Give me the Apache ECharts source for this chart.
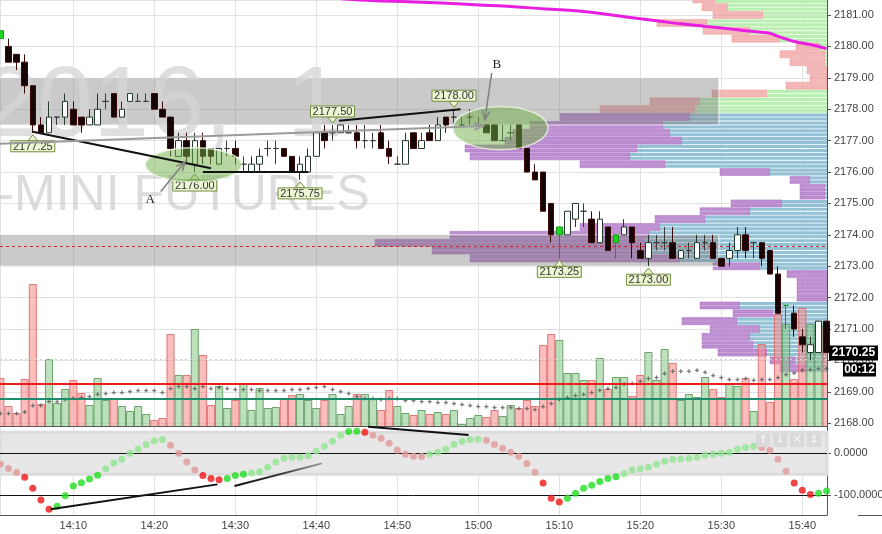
<!DOCTYPE html>
<html><head><meta charset="utf-8">
<script src="https://cdn.jsdelivr.net/npm/echarts@6/dist/echarts.min.js"></script>
<style>html,body{margin:0;padding:0;background:#fff;}#c{width:882px;height:534px;}</style>
</head><body><div id="c"></div>
<script>
// ---------- DATA ----------
const barTimes = ["14:01","14:02","14:03","14:04","14:05","14:06","14:07","14:08","14:09","14:10",
"14:11","14:12","14:13","14:14","14:15","14:16","14:17","14:18","14:19","14:20",
"14:21","14:22","14:23","14:24","14:25","14:26","14:27","14:28","14:29","14:30",
"14:31","14:32","14:33","14:34","14:35","14:36","14:37","14:38","14:39","14:40",
"14:41","14:42","14:43","14:44","14:45","14:46","14:47","14:48","14:49","14:50",
"14:51","14:52","14:53","14:54","14:55","14:56","14:57","14:58","14:59","15:00",
"15:01","15:02","15:03","15:04","15:05","15:06","15:07","15:08","15:09","15:10",
"15:11","15:12","15:13","15:14","15:15","15:16","15:17","15:18","15:19","15:20",
"15:21","15:22","15:23","15:24","15:25","15:26","15:27","15:28","15:29","15:30",
"15:31","15:32","15:33","15:34","15:35","15:36","15:37","15:38","15:39","15:40",
"15:41","15:42","15:43"];
const open = [2180.25,2180.0,2179.75,2179.5,2178.75,2177.5,2177.25,2177.75,2177.75,2178.0,
2177.75,2177.5,2177.5,2178.25,2178.5,2177.75,2178.25,2178.25,2178.25,2178.5,
2178.0,2177.75,2176.5,2177.0,2176.25,2177.0,2176.75,2176.25,2176.75,2176.75,
2176.25,2176.0,2176.25,2176.75,2176.75,2176.75,2176.5,2176.0,2176.0,2176.5,
2177.25,2177.25,2177.25,2177.25,2177.25,2177.0,2177.0,2177.25,2176.75,2176.25,
2176.25,2177.25,2176.75,2177.25,2177.0,2177.75,2177.75,2177.5,2177.75,2177.5,
2177.5,2177.5,2177.0,2177.25,2177.5,2176.75,2176.0,2176.0,2175.0,2174.0,
2174.0,2174.5,2174.75,2174.5,2173.75,2174.25,2173.75,2174.0,2174.25,2173.5,
2173.25,2173.75,2173.75,2173.75,2173.25,2173.5,2173.25,2173.75,2173.75,2173.25,
2173.25,2173.5,2174.0,2173.75,2173.75,2173.5,2172.75,2171.75,2171.5,2170.75,
2170.25,2170.25,2171.25];
const close = [2180.5,2179.5,2179.5,2178.75,2177.5,2177.25,2177.75,2177.75,2178.25,2177.5,
2177.5,2177.75,2178.0,2178.25,2177.75,2178.0,2178.5,2178.25,2178.25,2178.0,
2177.75,2176.75,2177.0,2176.5,2177.0,2176.5,2176.5,2176.75,2176.75,2176.5,
2176.25,2176.25,2176.5,2176.75,2176.75,2176.5,2176.0,2176.25,2176.5,2177.25,
2177.0,2177.25,2177.5,2177.25,2177.0,2177.0,2177.0,2176.75,2176.5,2176.25,
2177.0,2176.75,2177.0,2177.0,2177.5,2177.5,2177.75,2177.5,2177.75,2177.5,
2177.25,2177.0,2177.0,2177.25,2176.75,2176.0,2175.75,2174.75,2174.0,2174.25,
2174.75,2175.0,2174.75,2173.75,2174.5,2173.5,2174.0,2174.25,2173.75,2173.25,
2173.75,2173.75,2173.75,2173.25,2173.5,2173.5,2173.75,2173.75,2173.25,2173.0,
2173.5,2174.0,2173.5,2173.75,2173.25,2172.75,2171.5,2171.75,2171.0,2170.5,
2170.5,2171.25,2170.25];
const low = [2180.25,2179.5,2179.25,2178.5,2177.25,2177.25,2177.25,2177.5,2177.5,2177.5,
2177.25,2177.5,2177.5,2178.0,2177.75,2177.75,2178.25,2178.25,2178.25,2178.0,
2177.75,2176.5,2176.5,2176.25,2176.0,2176.25,2176.25,2176.25,2176.5,2176.25,
2176.0,2176.0,2176.0,2176.5,2176.25,2176.5,2176.0,2175.75,2176.0,2176.5,
2176.75,2177.0,2177.25,2177.25,2176.75,2176.75,2176.75,2176.75,2176.25,2176.25,
2176.25,2176.75,2176.75,2177.0,2177.0,2177.25,2177.5,2177.5,2177.5,2177.5,
2177.25,2177.0,2177.0,2177.0,2176.75,2176.0,2175.75,2174.75,2173.75,2173.25,
2174.0,2174.25,2174.25,2173.75,2173.75,2173.5,2173.25,2174.0,2173.25,2173.25,
2173.0,2173.5,2173.5,2173.25,2173.25,2173.25,2173.25,2173.5,2173.25,2173.0,
2173.0,2173.25,2173.25,2173.25,2173.0,2172.75,2171.5,2171.0,2170.75,2170.25,
2170.0,2170.25,2170.25];
const high = [2180.5,2180.25,2179.75,2179.75,2178.75,2177.75,2178.25,2177.75,2178.5,2178.25,
2177.75,2178.0,2178.5,2178.5,2178.5,2178.25,2178.5,2178.5,2178.5,2178.5,
2178.25,2177.75,2177.25,2177.25,2177.25,2177.25,2176.75,2176.75,2177.0,2177.0,
2176.5,2176.5,2176.75,2177.0,2177.0,2176.75,2176.5,2176.5,2176.75,2177.25,
2177.5,2177.5,2177.5,2177.5,2177.5,2177.5,2177.25,2177.5,2177.0,2176.5,
2177.25,2177.25,2177.25,2177.5,2177.75,2177.75,2178.0,2177.75,2178.0,2177.75,
2177.5,2177.5,2177.5,2177.5,2177.5,2176.75,2176.25,2176.0,2175.0,2174.25,
2174.75,2175.0,2175.0,2174.75,2174.75,2174.25,2174.0,2174.5,2174.25,2173.75,
2174.0,2174.0,2174.25,2174.25,2173.5,2173.75,2174.0,2174.0,2174.0,2173.25,
2173.75,2174.25,2174.25,2173.75,2173.75,2173.5,2173.0,2171.75,2171.75,2171.0,
2170.75,2171.25,2171.25];
const greenBars = ["14:01","15:10","15:17","15:38"];

const volume = [480,200,130,470,1420,220,670,230,370,460,
330,210,480,260,280,200,150,200,120,60,
80,920,510,510,970,710,210,400,180,260,
430,160,380,180,190,270,310,320,260,180,
260,320,120,200,320,320,280,160,360,200,
130,110,160,120,140,120,160,20,80,110,
90,160,100,210,180,260,200,810,920,860,
530,530,460,460,680,370,490,490,300,510,
740,460,770,630,260,320,290,490,370,290,
430,400,480,150,820,240,1120,1020,470,1180,
1020,1020,1000];
const volSide = ("dddddduuud"+"duuuduuuud"+"ddududduud"+"uuuuudduuu"+"duuuduuddu"+
  "udududuuuu"+"dduudddddu"+"uuududuudd"+"uuuduuuudd"+"uududddudd"+"uud").split("");
const volAvg = [124,124,124,140,204,204,244,244,264,277,
284,294,317,324,334,334,344,354,354,354,
334,374,394,394,374,394,374,384,374,364,
364,364,354,354,354,354,364,364,374,384,
394,364,344,324,294,274,274,264,274,274,
254,254,244,244,234,234,224,214,204,194,
194,184,184,184,174,174,164,194,224,264,
284,304,314,334,357,374,384,417,424,447,
474,484,524,547,547,547,557,537,504,484,
464,464,474,457,464,464,484,514,530,557,
564,574,574];
const volLevelHigh = 424, volLevelLow = 270, volLevelDot = 664;

const osc = [-26,-36,-46,-57,-83,-111,-133,-126,-101,-78,
-70,-61,-52,-37,-23,-14,0,10,21,30,
33,19,0,-21,-40,-53,-60,-63,-60,-53,
-50,-47,-44,-33,-21,-12,-9.5,-9.3,-5.7,5.5,
16.7,28.6,43,52,52.3,50,43,36,24,7,
-2.4,-7.1,-7.4,-2.4,2.4,9.5,21,28.6,33,33.2,
31,21,12,2.4,-7,-24,-45,-71,-107,-116,
-107,-95,-83,-76,-67,-60,-56,-48.5,-40,-37,
-33,-26,-19,-15,-13.6,-12,-9.5,-4.8,-2.4,0,
2.4,9.5,14,16.7,14,7,-14,-43,-71,-88,
-98,-95,-90];
const oscLevels = [0, -100];

const magTimes = ["14:40","14:44","14:48","14:53","14:58","15:03","15:08","15:13","15:18","15:22","15:25","15:28","15:31","15:33","15:36","15:37","15:39","15:41","15:43"];
const magPrices = [2181.62,2181.50,2181.45,2181.41,2181.35,2181.29,2181.20,2181.11,2180.95,2180.82,2180.72,2180.64,2180.56,2180.50,2180.42,2180.32,2180.16,2180.06,2179.93];

const profPrice = [2181.5,2181.25,2181.0,2180.75,2180.5,2180.25,2180.0,2179.75,2179.5,2179.25,2179.0,2178.75,
2178.5,2178.25,2178.0,2177.75,2177.5,2177.25,2177.0,2176.75,2176.5,2176.25,2176.0,2175.75,
2175.5,2175.25,2175.0,2174.75,2174.5,2174.25,2174.0,2173.75,2173.5,2173.25,2173.0,2172.75,
2172.5,2172.25,2172.0,2171.75,2171.5,2171.25,2171.0,2170.75,2170.5,2170.25,2170.0,2169.75];
const profTotal = [268,250,228,340,248,190,62,94,74,40,34,82,
230,354,454,534,594,628,644,724,714,494,214,74,
54,54,192,254,344,494,754,904,790,714,228,80,
60,60,60,254,188,290,234,250,250,218,114,94];
const profInner = [224,198,128,240,154,94,14,4,4,0,0,0,
120,254,264,274,328,314,290,380,394,324,114,34,
4,4,90,154,244,334,354,364,354,294,134,0,
0,0,0,174,108,180,134,154,148,120,64,44];
const valueAreaHigh = 2177.75;

const bandHigh = [2179.0, 2174.0], bandLow = [2177.5, 2173.0];
const bandFrom = ["14:00","14:00"], bandTo = ["15:29","15:29"];
const pocPrice = 2173.65;
const lastPrice = 2170.25, countdown = "00:12";

const swingTimes = ["14:05","14:25","14:38","14:42","14:57","15:10","15:21"];
const swingPrices = [2177.25,2176.00,2175.75,2177.50,2178.00,2173.25,2173.00];
const swingSide = ["L","L","L","H","H","L","L"];

// ---------- helpers ----------
function toMin(t){const [h,m]=t.split(":").map(Number);return (h-14)*60+m;}
function fmtTime(v){const tot=14*60+Math.round(v);const h=Math.floor(tot/60),m=tot%60;return h+":"+(m<10?"0":"")+m;}
const X_MIN = 0.95, X_MAX = 103.05;
const FONT = '"Liberation Sans", Arial, sans-serif';

const candleData = barTimes.map((t,i)=>{
  const it = {value:[toMin(t), open[i], close[i], low[i], high[i]]};
  if (greenBars.includes(t)) it.itemStyle = {color:'#1fd41f', borderColor:'#169a16', borderColorDoji:'#1fb81f'};
  return it;
});
const volData = barTimes.map((t,i)=>[toMin(t), volume[i], volSide[i]==='u'?1:0]);
const oscData = barTimes.map((t,i)=>{
  const v = osc[i], prev = i>0 ? osc[i-1] : v+1;
  const rising = v >= prev, strong = Math.abs(v) >= 50;
  const c = rising ? (strong ? '#22dd22' : '#92e692') : (strong ? '#ee1515' : '#e29a9a');
  return {value:[toMin(t), v], itemStyle:{color:c}};
});

const option = {
  animation:false,
  backgroundColor:'#ffffff',
  grid:[
    {left:0, top:0, width:827, height:426, outerBoundsMode:'none', containLabel:false},
    {left:0, top:426, width:827, height:89, outerBoundsMode:'none', containLabel:false}
  ],
  xAxis:[
    {type:'value', gridIndex:0, min:X_MIN, max:X_MAX, minInterval:10, maxInterval:10,
     axisLabel:{show:false}, axisTick:{show:false},
     axisLine:{show:true, onZero:false, lineStyle:{color:'#555', width:1}},
     splitLine:{show:true, lineStyle:{color:'#e2e2e2', width:1}}},
    {type:'value', gridIndex:1, min:X_MIN, max:X_MAX, minInterval:10, maxInterval:10,
     axisLabel:{show:true, formatter:v=>fmtTime(v), fontSize:11, color:'#444', margin:5, fontFamily:FONT,
                showMinLabel:false, showMaxLabel:false},
     axisTick:{show:false},
     axisLine:{show:true, onZero:false, lineStyle:{color:'#555', width:1}},
     splitLine:{show:true, lineStyle:{color:'#e2e2e2', width:1}}},
    {type:'value', gridIndex:0, min:0, max:1654, inverse:true, show:false, splitLine:{show:false}}
  ],
  yAxis:[
    {type:'value', gridIndex:0, position:'right', min:2167.91, max:2181.48, minInterval:1, maxInterval:1,
     axisLine:{show:true, lineStyle:{color:'#555'}},
     axisTick:{show:true, length:4, lineStyle:{color:'#555'}},
     axisLabel:{formatter:v=>v.toFixed(2), fontSize:11, color:'#444', margin:7, fontFamily:FONT,
                showMinLabel:false, showMaxLabel:false},
     splitLine:{show:true, lineStyle:{color:'#e2e2e2', width:1}}},
    {type:'value', gridIndex:0, min:0, max:4260, show:false, splitLine:{show:false}},
    {type:'value', gridIndex:1, position:'right', min:-146.9, max:65,
     axisLine:{show:true, lineStyle:{color:'#555'}},
     axisTick:{show:true, length:4, customValues:oscLevels, lineStyle:{color:'#555'}},
     axisLabel:{customValues:oscLevels, formatter:v=>Number(v).toFixed(4), fontSize:11, color:'#444', margin:7, fontFamily:FONT},
     splitLine:{show:false}}
  ],
  series:[
    { // volume profile
      type:'custom', name:'profile', xAxisIndex:2, yAxisIndex:0, z:1, silent:true, clip:true,
      data: profPrice.map((p,i)=>[profTotal[i], p, profInner[i]]),
      encode:{x:0, y:1},
      renderItem:(params, api)=>{
        const total=api.value(0), p=api.value(1), inner=api.value(2);
        const r=api.coord([0,p]), l=api.coord([total,p]), m=api.coord([inner,p]);
        const h=api.size([0,0.25])[1];
        const va = p <= valueAreaHigh + 1e-6;
        const oc = va ? '#bf8fd4' : '#f5b8b8', ocs = va ? '#a86cbf' : '#e89494';
        const ic = va ? '#93c2d6' : '#b9efb0';
        const sh = h/2 - 0.8, ch=[];
        [r[1]-h/2+0.4, r[1]+0.4].forEach(y0=>{
          if (l[0] < m[0]-0.5) ch.push({type:'rect', shape:{x:l[0], y:y0, width:m[0]-l[0], height:sh}, style:{fill:oc, stroke:ocs, lineWidth:0.5}});
          if (m[0] < r[0]) ch.push({type:'rect', shape:{x:m[0], y:y0, width:r[0]-m[0], height:sh}, style:{fill:ic}});
        });
        return {type:'group', children:ch};
      }
    },
    { // gray bands
      type:'custom', name:'bands', xAxisIndex:0, yAxisIndex:0, z:1.2, silent:true, clip:true,
      data: bandFrom.map((f,i)=>[toMin(f), bandHigh[i], toMin(bandTo[i])+0.7, bandLow[i]]),
      encode:{x:[0,2], y:[1,3]},
      renderItem:(params, api)=>{
        const a=api.coord([api.value(0), api.value(1)]), b=api.coord([api.value(2), api.value(3)]);
        return {type:'rect', shape:{x:a[0], y:a[1], width:b[0]-a[0], height:b[1]-a[1]},
                style:{fill:'rgba(115,115,115,0.38)', stroke:'rgba(255,255,255,0.75)', lineWidth:1}};
      },
      markLine:{silent:true, symbol:'none', label:{show:false},
        lineStyle:{color:'#d02828', type:[3,3], width:1}, data:[{yAxis:pocPrice}]}
    },
    { // volume bars
      type:'custom', name:'volume', xAxisIndex:0, yAxisIndex:1, z:2, silent:true, clip:true,
      data: volData, encode:{x:0, y:1},
      renderItem:(params, api)=>{
        const m=api.value(0), v=api.value(1), up=api.value(2)===1;
        const top=api.coord([m,v]), base=api.coord([m,0]);
        const w=api.size([1,0])[0];
        return {type:'rect', shape:{x:top[0]-w/2+0.5, y:top[1]+0.5, width:w-1, height:base[1]-top[1]},
          style: up ? {fill:'rgba(135,198,135,0.55)', stroke:'rgba(80,145,80,0.8)', lineWidth:1}
                    : {fill:'rgba(250,135,135,0.55)', stroke:'rgba(220,95,95,0.8)', lineWidth:1}};
      },
      markLine:{silent:true, symbol:'none', label:{show:false}, data:[
        {yAxis:volLevelHigh, lineStyle:{color:'#ee1c1c', width:2, type:'solid'}},
        {yAxis:volLevelLow, lineStyle:{color:'#1e8c6c', width:2, type:'solid'}},
        {yAxis:volLevelDot, lineStyle:{color:'#d0d0d0', width:1, type:[2,3]}}
      ]}
    },
    { // volume average
      type:'scatter', name:'volAvg', xAxisIndex:0, yAxisIndex:1, z:2.5, silent:true,
      symbol:'path://M1,0H2V1H3V2H2V3H1V2H0V1H1Z', symbolSize:4,
      itemStyle:{color:'#5a5a5a'},
      data: barTimes.map((t,i)=>[toMin(t), volAvg[i]])
    },
    { // candles
      type:'candlestick', name:'ES', xAxisIndex:0, yAxisIndex:0, z:5, barWidth:6,
      encode:{x:0, y:[1,2,3,4]},
      itemStyle:{color:'#ffffff', color0:'#170404', borderColor:'#23382b', borderColor0:'#3d0a0a', borderColorDoji:'#3a3a3a', borderWidth:1},
      data: candleData
    },
    { // magenta average
      type:'line', name:'avg', xAxisIndex:0, yAxisIndex:0, z:6, symbol:'none', smooth:0.3, silent:true,
      lineStyle:{color:'#e81ee0', width:3},
      data: magTimes.map((t,i)=>[toMin(t), magPrices[i]])
    },
    { // oscillator
      type:'scatter', name:'osc', xAxisIndex:1, yAxisIndex:2, z:5, symbolSize:7, silent:true,
      data: oscData,
      markArea:{silent:true, itemStyle:{color:'#e7e7e7', borderColor:'#dcdcdc', borderWidth:3},
        data:[[{yAxis:50},{yAxis:-50}]]},
      markLine:{silent:true, symbol:'none', label:{show:false}, lineStyle:{color:'#111', width:1, type:'solid'},
        data: oscLevels.map(v=>({yAxis:v}))}
    }
  ]
};

const chart = echarts.init(document.getElementById('c'), null, {renderer:'canvas'});
chart.setOption(option);

// ---------- annotations ----------
const P = (m,p)=>chart.convertToPixel({xAxisIndex:0, yAxisIndex:0}, [m,p]);
const O = (m,v)=>chart.convertToPixel({xAxisIndex:1, yAxisIndex:2}, [m,v]);
function vhead(x1,y1,x2,y2,len,spr){const a=Math.atan2(y2-y1,x2-x1);
  return [[x2-len*Math.cos(a-spr), y2-len*Math.sin(a-spr)],[x2,y2],[x2-len*Math.cos(a+spr), y2-len*Math.sin(a+spr)]];}
const G = [];
// watermark
G.push({type:'text', x:-18, y:108, z:1.5, silent:true, style:{text:'2016,', font:'100px '+FONT, fill:'rgba(214,214,214,0.78)', verticalAlign:'middle'}});
G.push({type:'text', x:287, y:108, z:1.5, silent:true, style:{text:'1', font:'100px '+FONT, fill:'rgba(214,214,214,0.78)', verticalAlign:'middle'}});
G.push({type:'text', x:-36, y:196, z:1.5, silent:true, style:{text:'E-MINI FUTURES', font:'50px '+FONT, fill:'rgba(205,205,205,0.7)', verticalAlign:'middle'}});

// swing labels
swingTimes.forEach((t,i)=>{
  const [x,y]=P(toMin(t), swingPrices[i]);
  const lowS = swingSide[i]==='L', s = lowS?1:-1;
  const tip = y + 2*s, base = y + 8*s, far = y + 19*s;
  G.push({type:'polygon', z:9, silent:true, shape:{points:[[x,tip],[x-5,base],[x+5,base]]}, style:{fill:'#eef6d4', stroke:'#6f8f3e', lineWidth:1}});
  G.push({type:'rect', z:9, silent:true, shape:{x:x-22, y:Math.min(base,far), width:44, height:11}, style:{fill:'#eef6d4', stroke:'#6f8f3e', lineWidth:1}});
  G.push({type:'text', z:9, silent:true, x:x, y:(base+far)/2+0.5, style:{text:swingPrices[i].toFixed(2), font:'11px '+FONT, fill:'#333', align:'center', verticalAlign:'middle'}});
});
// ellipses
[[24.84,2176.23,48,17],[62.74,2177.40,47.5,21.7]].forEach(e=>{
  const [cx,cy]=P(e[0],e[1]);
  G.push({type:'ellipse', z:10, silent:true, shape:{cx, cy, rx:e[2], ry:e[3]}, style:{fill:'rgba(110,175,70,0.5)', stroke:'rgba(235,245,225,0.8)', lineWidth:1.5}});
});
// trend lines (top pane)
const tl = [
  {a:[5,2177.28], b:[27,2176.12], c:'#111', w:2},
  {a:[26,2176.0], b:[39,2176.0], c:'#111', w:2},
  {a:[42.8,2177.63], b:[57.8,2178.0], c:'#111', w:2},
  {a:[0.95,2176.9], b:[60.6,2177.47], c:'#9a9a9a', w:2, arrow:true},
  {a:[20.8,2175.38], b:[23.8,2176.33], c:'#808080', w:1.5, arrow:true},
  {a:[61.65,2179.15], b:[60.8,2177.66], c:'#808080', w:1.5, arrow:true}
];
tl.forEach(l=>{
  const a=P(l.a[0],l.a[1]), b=P(l.b[0],l.b[1]);
  G.push({type:'line', z:11, silent:true, shape:{x1:a[0],y1:a[1],x2:b[0],y2:b[1]}, style:{stroke:l.c, lineWidth:l.w}});
  if (l.arrow) G.push({type:'polyline', z:11, silent:true, shape:{points:vhead(a[0],a[1],b[0],b[1],10,0.4)}, style:{stroke:l.c, lineWidth:l.w, fill:null}});
});
// A / B letters
[['A',19.5,2175.11],['B',62.3,2179.41]].forEach(t=>{
  const [x,y]=P(t[1],t[2]);
  G.push({type:'text', z:11, silent:true, x, y, style:{text:t[0], font:'13px "Liberation Serif", "DejaVu Serif", serif', fill:'#222', align:'center', verticalAlign:'middle'}});
});
// oscillator lines
const ol = [
  {a:[7.2,-133], b:[27.8,-74], grad:false},
  {a:[29.9,-78], b:[40.7,-24], grad:true},
  {a:[46.4,63], b:[58.8,43.6], grad:false}
];
ol.forEach(l=>{
  const a=O(l.a[0],l.a[1]), b=O(l.b[0],l.b[1]);
  const stroke = l.grad ? {type:'linear', x:0, y:0, x2:1, y2:0, colorStops:[{offset:0,color:'#111'},{offset:0.5,color:'#333'},{offset:1,color:'#a0a0a0'}]} : '#111';
  G.push({type:'line', z:11, silent:true, shape:{x1:a[0],y1:a[1],x2:b[0],y2:b[1]}, style:{stroke, lineWidth:2}});
});
// oscillator pane buttons
['↑','↓','✕','↕'].forEach((g,i)=>{
  const x = 756 + i*17;
  G.push({type:'rect', z:11, silent:true, shape:{x, y:434, width:14, height:13}, style:{fill:'#d9d9d9'}});
  G.push({type:'text', z:11, silent:true, x:x+7, y:440.5, style:{text:g, font:'bold 11px "DejaVu Sans", sans-serif', fill:'#f4f4f4', align:'center', verticalAlign:'middle'}});
});
// last price and countdown
const ly = P(X_MAX, lastPrice)[1];
G.push({type:'rect', z:12, silent:true, shape:{x:829, y:ly-7, width:49, height:15}, style:{fill:'#000'}});
G.push({type:'text', z:12, silent:true, x:853.5, y:ly+0.5, style:{text:lastPrice.toFixed(2), font:'bold 12px '+FONT, fill:'#fff', align:'center', verticalAlign:'middle'}});
G.push({type:'rect', z:12, silent:true, shape:{x:843, y:ly+10, width:33, height:14}, style:{fill:'#000'}});
G.push({type:'text', z:12, silent:true, x:859.5, y:ly+17.5, style:{text:countdown, font:'bold 12px '+FONT, fill:'#fff', align:'center', verticalAlign:'middle'}});
G.push({type:'line', z:12, silent:true, shape:{x1:858, y1:515.5, x2:882, y2:515.5}, style:{stroke:'#555', lineWidth:1}});

chart.setOption({graphic:G});
</script>
</body></html>
